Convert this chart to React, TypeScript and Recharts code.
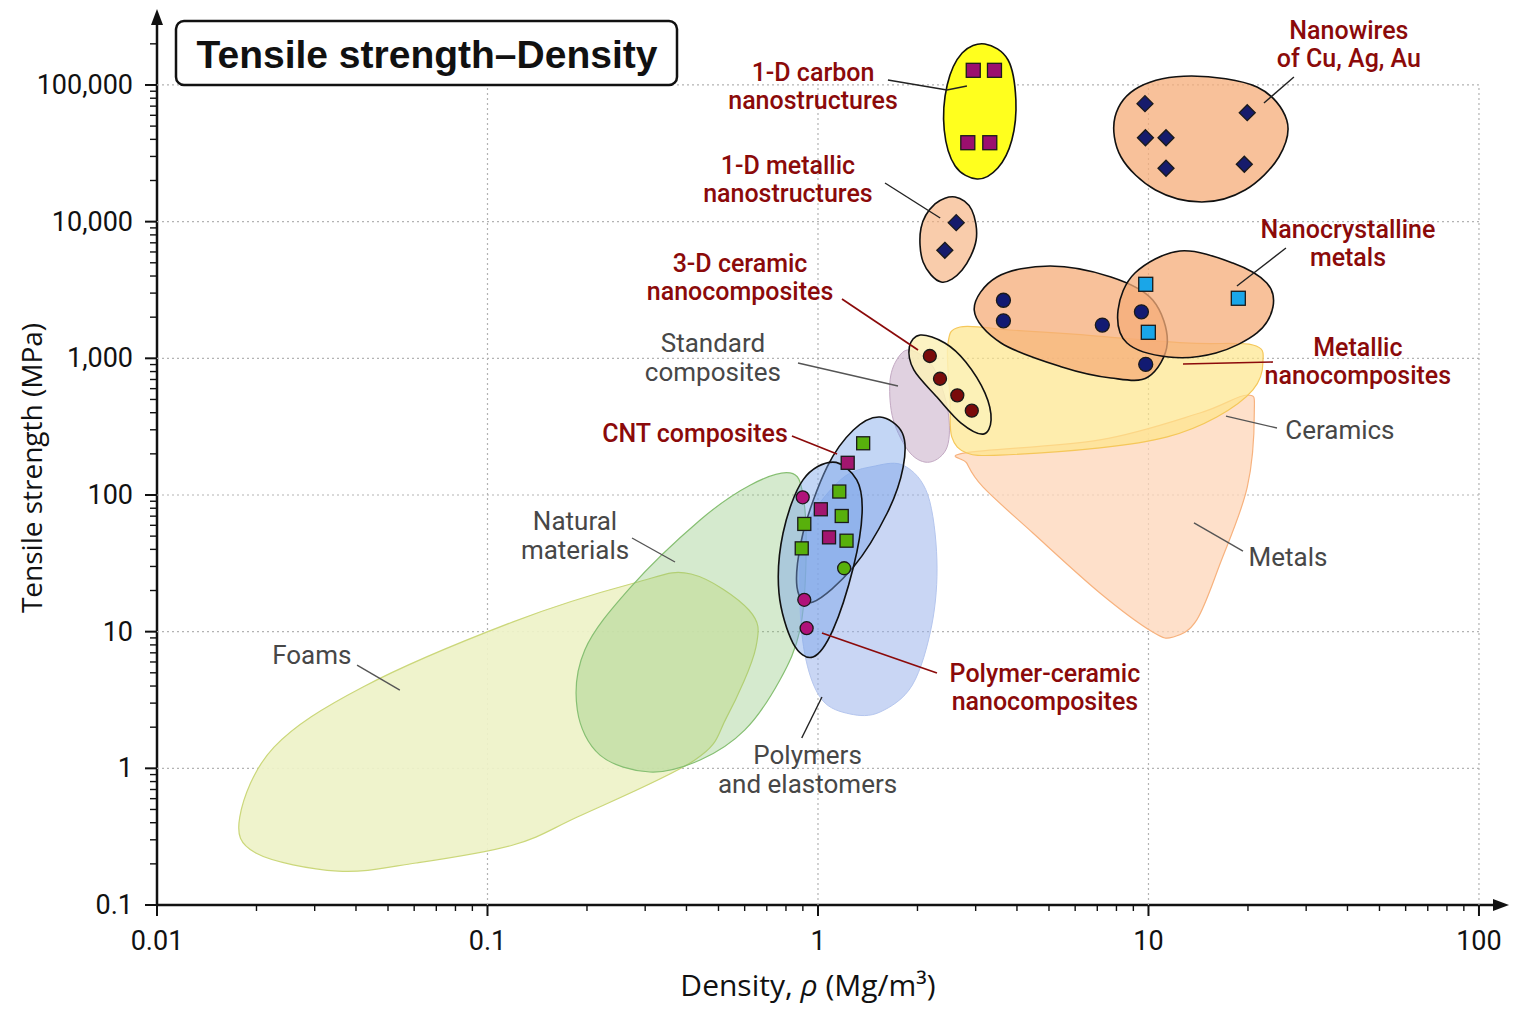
import React from 'react';
import { ScatterChart, Scatter, XAxis, YAxis } from 'recharts';

const W = 1536;
const H = 1024;

// log axes, the top / right ends leave room for the arrow heads
const X_DOMAIN: [number, number] = [0.01, 112.6];
const Y_DOMAIN: [number, number] = [0.1, 288900];

const xMajorTicks = [0.01, 0.1, 1, 10, 100];
const xTickLabels = ['0.01', '0.1', '1', '10', '100'];
const yMajorTicks = [0.1, 1, 10, 100, 1000, 10000, 100000];
const yTickLabels = ['0.1', '1', '10', '100', '1,000', '10,000', '100,000'];
const minorSteps = [2, 3, 4, 5, 6, 7, 8, 9];

// material family envelopes, outline points as [density Mg/m3, strength MPa]
const foams = [
  [0.0178, 0.44], [0.0226, 1.43], [0.042, 3.94], [0.1195, 11.8], [0.278, 22.7], [0.413, 26.4],
  [0.618, 14.4], [0.649, 7.72], [0.53, 2.38], [0.424, 1.15], [0.187, 0.44], [0.1195, 0.275],
  [0.0608, 0.203], [0.0353, 0.177], [0.0199, 0.24],
];
const naturalMaterials = [
  [0.823, 145], [0.901, 100], [0.92, 33.4], [0.882, 10.3], [0.767, 4.43], [0.601, 1.91], [0.44, 1.15],
  [0.31, 0.94], [0.219, 1.25], [0.187, 2.67], [0.197, 7.34], [0.27, 20.9], [0.44, 65.6], [0.623, 118],
];
const polymers = [
  [1.83, 163], [2.15, 100], [2.29, 33.4], [2.21, 11.2], [1.93, 4.07], [1.54, 2.58], [1.25, 2.5],
  [1.03, 3.16], [0.92, 6.2], [0.882, 17.1], [0.913, 55.4], [1.17, 129], [1.49, 163],
];
const standardComposites = [
  [1.9, 1150], [2.23, 864], [2.47, 419], [2.46, 225], [2.18, 174], [1.9, 203], [1.69, 354], [1.65, 660], [1.73, 972],
];
const metals = [
  [2.79, 203], [7.13, 253], [14.3, 398], [19.9, 539], [20.9, 398], [19.9, 114], [16.5, 31.8],
  [14.0, 12.2], [11.9, 9.14], [10.3, 9.94], [7.13, 19.2], [4.47, 52.7], [3.16, 114], [2.82, 171],
];
const ceramics = [
  [2.69, 1695], [3.81, 1611], [5.79, 1507], [12.9, 1295], [20.7, 1252], [22.2, 940], [20.7, 587],
  [16.1, 372], [11.4, 266], [7.13, 221], [3.55, 196], [2.82, 203], [2.54, 266], [2.51, 496], [2.47, 1252],
];
const ceramicNano3D = [
  [2.04, 1481], [2.42, 1295], [2.8, 940], [3.2, 558], [3.34, 354], [3.16, 279], [2.71, 336], [2.29, 521], [1.95, 822], [1.89, 1210],
];
const nanoMetalsLeft = [
  [5.04, 4738], [7.7, 3936], [10.3, 2671], [11.4, 1295], [9.97, 730], [7.7, 718], [5.47, 864], [3.58, 1295], [2.97, 2257], [3.48, 3936],
];
const nanoCrystalline = [
  [12.45, 6099], [18.0, 4983], [22.8, 3557], [23.8, 2374], [21.3, 1532], [16.0, 1094], [11.5, 1023], [8.61, 1295], [8.09, 2257], [9.1, 4210],
];
const nanowires = [
  [13.5, 116300], [21.3, 96650], [26.2, 55430], [24.8, 29720], [19.6, 17040], [14.5, 13920], [10.5, 17040], [8.26, 29720], [7.92, 58310], [9.36, 96650],
];
const metallic1D = [
  [2.6, 15150], [2.92, 12170], [3.01, 7340], [2.73, 4428], [2.36, 3617], [2.08, 5067], [2.05, 8985], [2.26, 13470],
];
const carbon1D = [
  [3.2, 199500], [3.76, 152300], [3.97, 77660], [3.86, 39580], [3.5, 24690], [3.03, 20520], [2.6, 25540], [2.41, 46850], [2.46, 100000], [2.73, 171400],
];
const cntComposites = [
  [1.54, 372], [1.8, 284], [1.81, 160], [1.62, 73.8], [1.28, 29.7], [0.966, 16.5], [0.864, 21.2], [0.901, 52.7], [1.065, 160], [1.28, 299],
];
const polymerCeramic = [
  [1.11, 174], [1.31, 129], [1.36, 73.8], [1.28, 29.7], [1.11, 10.3], [0.966, 6.53], [0.84, 8.26], [0.762, 19.2], [0.784, 52.7], [0.901, 129],
];

// individual materials
const carbonSquares = [[2.95, 128000], [3.42, 128000], [2.84, 37800], [3.31, 37800]];
const nanowireDiamonds = [[9.76, 73000], [19.9, 62700], [9.79, 41100], [11.3, 41100], [11.3, 24600], [19.5, 26300]];
const metallicDiamonds = [[2.62, 9830], [2.42, 6170]];
const navyCircles = [[3.64, 2660], [3.64, 1880], [7.25, 1750], [9.52, 2190], [9.81, 904]];
const cyanSquares = [[9.81, 3480], [18.7, 2750], [9.99, 1550]];
const ceramicCircles = [[2.18, 1040], [2.34, 709], [2.64, 536], [2.92, 414]];
const greenSquares = [[1.37, 239], [1.16, 106], [1.18, 70.2], [0.909, 61.4], [1.22, 46.3], [0.893, 40.7]];
const magentaSquares = [[1.23, 172], [1.02, 78.6], [1.08, 49]];
const magentaCircles = [[0.899, 96.2], [0.909, 17.1], [0.924, 10.6]];
const greenCircles = [[1.2, 29.1]];

// annotations
const redLabels = [
  { x: 0.966, y: 124000, text: '1-D carbon\nnanostructures' },
  { x: 0.811, y: 25970, text: '1-D metallic\nnanostructures' },
  { x: 0.581, y: 4983, text: '3-D ceramic\nnanocomposites' },
  { x: 0.4244, y: 284, text: 'CNT composites' },
  { x: 4.86, y: 4.99, text: 'Polymer-ceramic\nnanocomposites' },
  { x: 40.4, y: 252500, text: 'Nanowires\nof Cu, Ag, Au' },
  { x: 40.15, y: 8837, text: 'Nanocrystalline\nmetals' },
  { x: 43.0, y: 1210, text: 'Metallic\nnanocomposites' },
];
const grayLabels = [
  { x: 0.481, y: 1295, text: 'Standard\ncomposites' },
  { x: 0.184, y: 64.5, text: 'Natural\nmaterials' },
  { x: 0.0294, y: 6.75, text: 'Foams' },
  { x: 0.93, y: 1.252, text: 'Polymers\nand elastomers' },
  { x: 37.95, y: 299, text: 'Ceramics' },
  { x: 26.44, y: 35.2, text: 'Metals' },
];
const redLeaders = [
  [[1.182, 2716], [2.008, 1151]],
  [[0.834, 270], [1.142, 199.5]],
  [[1.028, 9.77], [2.291, 4.985]],
  [[23.81, 940], [12.72, 909]],
];
const blackLeaders = [
  [[1.628, 108750], [2.456, 91900], [2.823, 98290]],
  [[1.595, 19180], [2.343, 10630]],
  [[0.893, 1.667], [1.028, 3.327]],
  [[27.55, 114400], [22.36, 73810]],
  [[26.06, 6415], [18.52, 3382]],
];
const grayLeaders = [
  [[0.87, 924], [1.746, 627]],
  [[0.2737, 48.45], [0.3693, 32.34]],
  [[0.0403, 5.7], [0.0543, 3.74]],
  [[24.48, 309], [17.16, 378]],
  [[19.32, 38.9], [13.73, 62.4]],
];

const xMinor = xMajorTicks.flatMap((d) => minorSteps.map((k) => Number((d * k).toPrecision(6)))).filter((v) => v < X_DOMAIN[1]);
const yMinor = yMajorTicks.flatMap((d) => minorSteps.map((k) => Number((d * k).toPrecision(6)))).filter((v) => v < Y_DOMAIN[1]);
const xTicks = [...xMajorTicks, ...xMinor].sort((a, b) => a - b);
const yTicks = [...yMajorTicks, ...yMinor].sort((a, b) => a - b);

const hGrid = yMajorTicks.slice(1).map((v) => [[0.01, v], [100, v]]);
const vGrid = xMajorTicks.slice(1).map((v) => [[v, 0.1], [v, 100000]]);

const toPts = (arr: number[][]) => arr.map(([x, y]) => ({ x, y }));

const envelopes = [
  { name: 'foams', pts: foams, fill: '#eef2c8', opacity: 0.92, stroke: '#cbd77a', width: 1.2 },
  { name: 'natural', pts: naturalMaterials, fill: '#7fbf6a', opacity: 0.33, stroke: '#86bf72', width: 1.2 },
  { name: 'polymers', pts: polymers, fill: '#93aeea', opacity: 0.5, stroke: '#b5c6ee', width: 1 },
  { name: 'standard', pts: standardComposites, fill: '#cbb3cb', opacity: 0.6, stroke: '#c3a9c3', width: 1 },
  { name: 'metals', pts: metals, fill: '#fdd5b8', opacity: 0.75, stroke: '#f7b27e', width: 1.2 },
  { name: 'ceramics', pts: ceramics, fill: '#fde68a', opacity: 0.7, stroke: '#f5c75a', width: 1.2 },
  { name: 'ceramic3d', pts: ceramicNano3D, fill: '#fbf1b8', opacity: 0.85, stroke: '#111', width: 1.6 },
  { name: 'nanoLeft', pts: nanoMetalsLeft, fill: '#f6ac78', opacity: 0.75, stroke: '#111', width: 1.6 },
  { name: 'nanoCryst', pts: nanoCrystalline, fill: '#f6ac78', opacity: 0.75, stroke: '#111', width: 1.6 },
  { name: 'nanowires', pts: nanowires, fill: '#f6ac78', opacity: 0.75, stroke: '#111', width: 1.6 },
  { name: 'metallic1d', pts: metallic1D, fill: '#f6ac78', opacity: 0.62, stroke: '#111', width: 1.6 },
  { name: 'carbon1d', pts: carbon1D, fill: '#ffff1e', opacity: 1, stroke: '#111', width: 1.6 },
  { name: 'cnt', pts: cntComposites, fill: '#7aa5e8', opacity: 0.45, stroke: '#111', width: 1.6 },
  { name: 'polyCeramic', pts: polymerCeramic, fill: '#7aa5e8', opacity: 0.45, stroke: '#111', width: 1.6 },
];

type P = { x: number; y: number };

// smooth closed curve through the outline points (Catmull-Rom)
function closedCurve(pts: P[]) {
  const n = pts.length;
  let d = `M${pts[0].x},${pts[0].y}`;
  for (let i = 0; i < n; i++) {
    const p0 = pts[(i - 1 + n) % n];
    const p1 = pts[i];
    const p2 = pts[(i + 1) % n];
    const p3 = pts[(i + 2) % n];
    const c1x = p1.x + (p2.x - p0.x) / 6;
    const c1y = p1.y + (p2.y - p0.y) / 6;
    const c2x = p2.x - (p3.x - p1.x) / 6;
    const c2y = p2.y - (p3.y - p1.y) / 6;
    d += ` C${c1x},${c1y} ${c2x},${c2y} ${p2.x},${p2.y}`;
  }
  return d + ' Z';
}

const openPath = (pts: P[]) => pts.map((p, i) => `${i ? 'L' : 'M'}${p.x},${p.y}`).join(' ');

const Empty = () => <g />;

const majorIndex = (v: number, majors: number[]) => majors.findIndex((m) => Math.abs(m - v) / m < 1e-6);

const XTick = (props: any) => {
  const { x, y, payload } = props;
  const i = majorIndex(payload.value, xMajorTicks);
  const major = i >= 0;
  return (
    <g>
      <line x1={x} x2={x} y1={y} y2={y + (major ? 11 : 6)} stroke="#111" strokeWidth={major ? 2 : 1.4} />
      {major && (
        <text x={x} y={y + 36} textAnchor="middle" dominantBaseline="central" fontFamily="Roboto, sans-serif" fontSize={27} fill="#111">
          {xTickLabels[i]}
        </text>
      )}
    </g>
  );
};

const YTick = (props: any) => {
  const { x, y, payload } = props;
  const i = majorIndex(payload.value, yMajorTicks);
  const major = i >= 0;
  return (
    <g>
      <line x1={x - (major ? 12 : 7)} x2={x} y1={y} y2={y} stroke="#111" strokeWidth={major ? 2 : 1.4} />
      {major && (
        <text x={x - 24} y={y} textAnchor="end" dominantBaseline="central" fontFamily="Roboto, sans-serif" fontSize={27} fill="#111">
          {yTickLabels[i]}
        </text>
      )}
    </g>
  );
};

const LabelText = ({ cx, cy, payload, color, size, weight }: any) => {
  const lines = String(payload.text).split('\n');
  return (
    <text x={cx} y={cy} textAnchor="middle" fontFamily="Roboto, sans-serif" fontSize={size} fontWeight={weight} fill={color}>
      {lines.map((t, i) => (
        <tspan key={i} x={cx} dy={i === 0 ? '0.35em' : 28.5}>
          {t}
        </tspan>
      ))}
    </text>
  );
};

const square = (fill: string, s: number) => (p: any) => (
  <rect x={p.cx - s / 2} y={p.cy - s / 2} width={s} height={s} fill={fill} stroke="#1a1a1a" strokeWidth={1.3} />
);
const circle = (fill: string, r: number) => (p: any) => (
  <circle cx={p.cx} cy={p.cy} r={r} fill={fill} stroke="#1a1a1a" strokeWidth={1.3} />
);
const diamond = (fill: string, s: number) => (p: any) => (
  <path d={`M${p.cx},${p.cy - s} L${p.cx + s},${p.cy} L${p.cx},${p.cy + s} L${p.cx - s},${p.cy} Z`} fill={fill} stroke="#1a1a1a" strokeWidth={1.3} />
);

const markers = [
  { name: 'carbon', pts: carbonSquares, shape: square('#9b0f6e', 14) },
  { name: 'wires', pts: nanowireDiamonds, shape: diamond('#161b6c', 8) },
  { name: 'metallic', pts: metallicDiamonds, shape: diamond('#161b6c', 8) },
  { name: 'navy', pts: navyCircles, shape: circle('#121a72', 7) },
  { name: 'cyan', pts: cyanSquares, shape: square('#1aa6e8', 14) },
  { name: 'ceramic', pts: ceramicCircles, shape: circle('#7a0b0b', 6.5) },
  { name: 'greenSq', pts: greenSquares, shape: square('#58b00c', 13) },
  { name: 'magSq', pts: magentaSquares, shape: square('#a2166f', 13) },
  { name: 'magCirc', pts: magentaCircles, shape: circle('#b0127a', 6.5) },
  { name: 'greenCirc', pts: greenCircles, shape: circle('#58b00c', 6.5) },
];

const leaderGroups = [
  { color: '#8b0a0a', width: 1.7, lines: redLeaders },
  { color: '#222', width: 1.4, lines: blackLeaders },
  { color: '#555', width: 1.4, lines: grayLeaders },
];

export default function App() {
  return (
    <div style={{ position: 'absolute', left: 0, top: 0, width: W, height: H, background: '#fff' }}>
      <ScatterChart width={W} height={H} margin={{ top: 22, right: 40, bottom: 59, left: 57 }}>
        <XAxis
          type="number"
          dataKey="x"
          scale="log"
          domain={X_DOMAIN}
          ticks={xTicks}
          interval={0}
          tickSize={0}
          tickMargin={0}
          tickLine={false}
          tick={XTick}
          axisLine={{ stroke: '#111', strokeWidth: 2.5, markerEnd: 'url(#axisArrow)' }}
          height={60}
        />
        <YAxis
          type="number"
          dataKey="y"
          scale="log"
          domain={Y_DOMAIN}
          ticks={yTicks}
          interval={0}
          tickSize={0}
          tickMargin={0}
          tickLine={false}
          tick={YTick}
          axisLine={{ stroke: '#111', strokeWidth: 2.5, markerStart: 'url(#axisArrow)' }}
          width={100}
        />

        {[...hGrid, ...vGrid].map((g, i) => (
          <Scatter
            key={`grid${i}`}
            data={toPts(g)}
            shape={Empty}
            lineType="joint"
            line={(lp: any) => <path d={openPath(lp.points)} fill="none" stroke="#b3b3b3" strokeWidth={1.2} strokeDasharray="2 3" />}
            isAnimationActive={false}
          />
        ))}

        {envelopes.map((e) => (
          <Scatter
            key={e.name}
            data={toPts(e.pts)}
            shape={Empty}
            lineType="joint"
            line={(lp: any) => (
              <path d={closedCurve(lp.points)} fill={e.fill} fillOpacity={e.opacity} stroke={e.stroke} strokeWidth={e.width} />
            )}
            isAnimationActive={false}
          />
        ))}

        {leaderGroups.flatMap((g, gi) =>
          g.lines.map((l, i) => (
            <Scatter
              key={`lead${gi}-${i}`}
              data={toPts(l)}
              shape={Empty}
              lineType="joint"
              line={(lp: any) => <path d={openPath(lp.points)} fill="none" stroke={g.color} strokeWidth={g.width} />}
              isAnimationActive={false}
            />
          ))
        )}

        {markers.map((m) => (
          <Scatter key={m.name} data={toPts(m.pts)} shape={m.shape} isAnimationActive={false} />
        ))}

        <Scatter
          data={redLabels}
          shape={(p: any) => <LabelText {...p} color="#8b0a0a" size={25} weight={500} />}
          isAnimationActive={false}
        />
        <Scatter
          data={grayLabels}
          shape={(p: any) => <LabelText {...p} color="#474747" size={26} weight={400} />}
          isAnimationActive={false}
        />
      </ScatterChart>

      <svg width={W} height={H} style={{ position: 'absolute', left: 0, top: 0, pointerEvents: 'none' }}>
        <defs>
          <marker id="axisArrow" viewBox="0 0 16 12" refX={3} refY={6} markerWidth={16} markerHeight={12} markerUnits="userSpaceOnUse" orient="auto-start-reverse">
            <path d="M0,0 L16,6 L0,12 Z" fill="#111" />
          </marker>
        </defs>
        <rect x={176} y={21} width={501} height={64} rx={8} fill="#fff" stroke="#111" strokeWidth={2.5} />
        <text x={427} y={54} textAnchor="middle" dominantBaseline="central" fontFamily="'Liberation Sans', Arial, sans-serif" fontWeight={700} fontSize={39} fill="#111">
          Tensile strength–Density
        </text>
        <text transform="translate(31,468) rotate(-90)" textAnchor="middle" dominantBaseline="central" fontFamily="'Open Sans', sans-serif" fontSize={28} fill="#111">
          Tensile strength (MPa)
        </text>
        <text x={808} y={984} textAnchor="middle" dominantBaseline="central" fontFamily="'Open Sans', sans-serif" fontSize={30} fill="#111">
          Density, <tspan fontStyle="italic">ρ</tspan> (Mg/m³)
        </text>
      </svg>
    </div>
  );
}
